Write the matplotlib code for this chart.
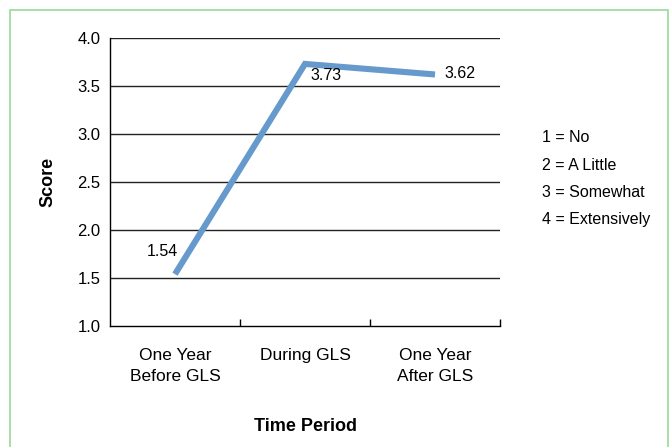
import matplotlib
matplotlib.use("Agg")
import matplotlib.pyplot as plt
from matplotlib.patches import Rectangle

categories = ["One Year\nBefore GLS", "During GLS", "One Year\nAfter GLS"]
scores = [1.54, 3.73, 3.62]
y_ticks = [1.0, 1.5, 2.0, 2.5, 3.0, 3.5, 4.0]
legend_lines = ["1 = No", "2 = A Little", "3 = Somewhat", "4 = Extensively"]

plt.rcParams['font.family'] = ['Liberation Sans', 'DejaVu Sans']

W, H = 670, 447
fig = plt.figure(figsize=(W/100, H/100), dpi=100)
fig.patches.append(Rectangle((10/W, -0.05), (668-10)/W, (H-10)/H + 0.05,
                             transform=fig.transFigure, fill=False,
                             edgecolor='#9ad99a', linewidth=1.2))

ax = fig.add_axes([110/W, 1-326/H, (500-110)/W, (326-38)/H])
x = list(range(len(categories)))
ax.plot(x, scores, color='#6699cc', linewidth=4.4, solid_capstyle='butt', solid_joinstyle='miter', zorder=3)
ax.set_xlim(-0.5, 2.5)
ax.set_ylim(1.0, 4.0)
ax.set_yticks(y_ticks)
ax.set_yticklabels([f"{v:.1f}" for v in y_ticks], fontsize=12)
ax.tick_params(axis='y', length=0, pad=7)
for v in y_ticks[1:]:
    ax.axhline(v, color='#222222', linewidth=1.0, zorder=1)
ax.set_xticks([0.5, 1.5, 2.5])
ax.set_xticklabels([])
ax.tick_params(axis='x', direction='in', length=5, width=1)
ax.set_xticks(x, minor=True)
ax.set_xticklabels(categories, minor=True, fontsize=12.5, linespacing=1.5)
ax.tick_params(axis='x', which='minor', length=0, pad=16)
for s in ['top', 'right']:
    ax.spines[s].set_visible(False)
for s in ['left', 'bottom']:
    ax.spines[s].set_linewidth(1.0)

ax.annotate(f"{scores[0]:.2f}", (x[0], scores[0]), xytext=(-9, 16), textcoords='offset points',
            ha='center', va='center', fontsize=11.5)
ax.annotate(f"{scores[1]:.2f}", (x[1], scores[1]), xytext=(15, -8), textcoords='offset points',
            ha='center', va='center', fontsize=11.5)
ax.annotate(f"{scores[2]:.2f}", (x[2], scores[2]), xytext=(18, 1), textcoords='offset points',
            ha='center', va='center', fontsize=11.5)

ax.set_ylabel("Score", fontsize=13, fontweight='bold', labelpad=15)
ax.set_xlabel("Time Period", fontsize=13, fontweight='bold', labelpad=24)

for i, t in enumerate(legend_lines):
    fig.text(542/W, 1-(138 + i*27)/H, t, fontsize=11.5, ha='left', va='center')

fig.savefig("out.png", dpi=100)
